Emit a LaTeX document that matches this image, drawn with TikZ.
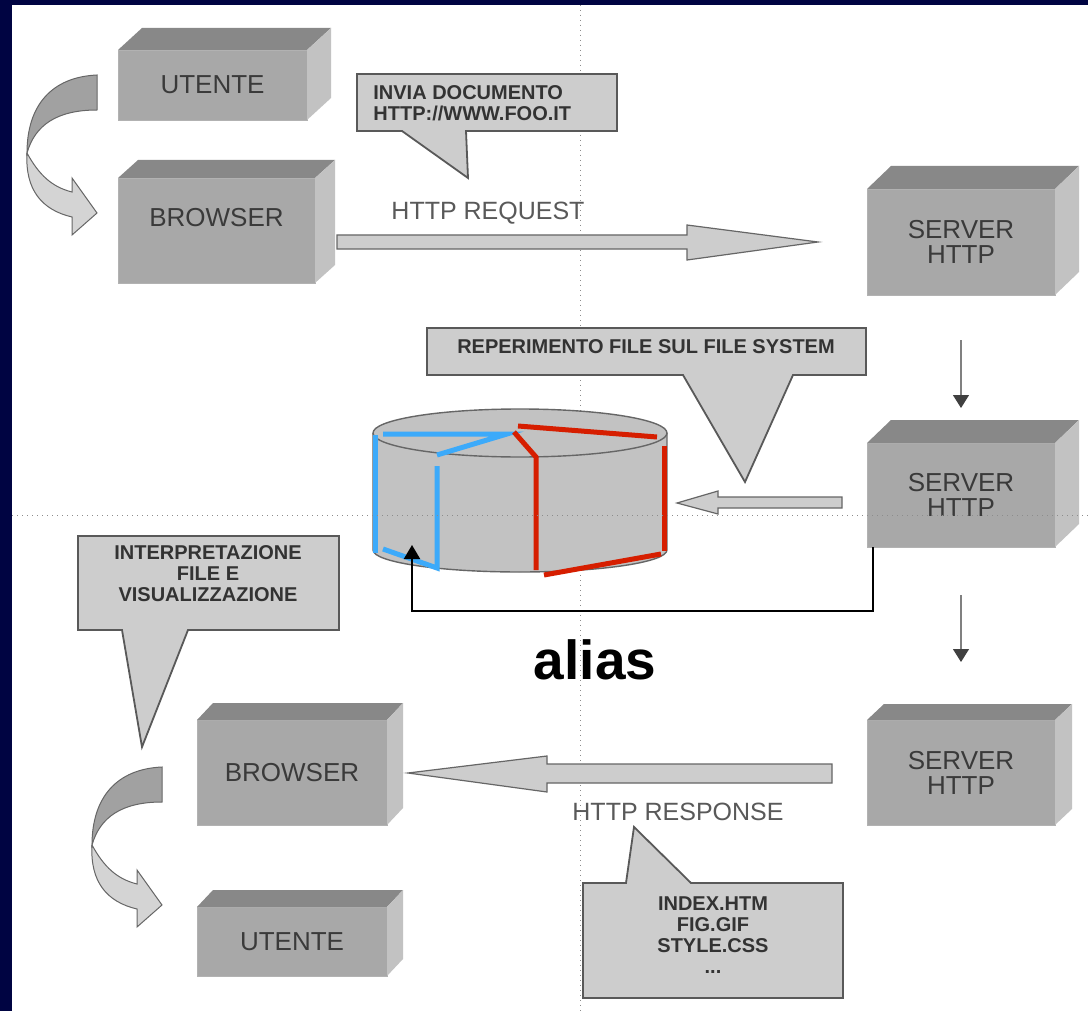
\documentclass[tikz,border=0pt]{standalone}
\usepackage{fontspec}
\setmainfont{Liberation Sans}
\usetikzlibrary{positioning,arrows.meta,calc}
\definecolor{slideNavy}{RGB}{0,4,66}
\definecolor{boxFront}{RGB}{168,168,168}
\definecolor{boxTop}{RGB}{136,136,136}
\definecolor{boxSide}{RGB}{194,194,194}
\definecolor{calloutGray}{RGB}{205,205,205}
\definecolor{textGray}{RGB}{58,58,58}
\definecolor{fsBlue}{RGB}{60,170,250}
\definecolor{fsRed}{RGB}{214,30,0}

% top and side faces of a 3d box (node, depth x, depth y)
\newcommand{\boxfaces}[3]{%
  \fill[boxTop] (#1.north west) -- ++(#2,-#3) -- ($(#1.north east)+(#2,-#3)$) -- (#1.north east) -- cycle;
  \fill[boxSide] (#1.north east) -- ++(#2,-#3) -- ($(#1.south east)+(#2,-#3)$) -- (#1.south east) -- cycle;}

\begin{document}
\begin{tikzpicture}[
  x=0.5pt, y=-0.5pt,
  box/.style={fill=boxFront, draw=black!30, line width=0.3pt, inner sep=0pt, outer sep=0pt, align=center, text=textGray, font=\fontsize{13}{12.5}\selectfont},
  callout/.style={fill=calloutGray, draw=black!65, line width=0.9pt, line join=miter},
  calltext/.style={font=\bfseries\fontsize{10}{10.5}\selectfont, text=black!80, inner sep=0pt},
  flowlabel/.style={font=\fontsize{12.5}{14}\selectfont, text=black!65},
  blockarrow/.style={fill=calloutGray, draw=black!60, line width=0.6pt},
  ribbonback/.style={fill=black!37, draw=black!60, line width=0.5pt},
  ribbonfront/.style={fill=black!17, draw=black!60, line width=0.5pt},
  downarrow/.style={draw=black!50, line width=0.6pt, -{Triangle[width=8pt,length=6.5pt,color=black!75]}},
  aliasline/.style={draw=black, line width=1pt, -{Triangle[width=8pt,length=7pt]}},
  fsline/.style={line width=2.5pt},
  guide/.style={draw=black!45, dotted, line width=0.5pt},
  pics/ribbon/.style={code={
    \path[ribbonback] (0,0) .. controls (-45,2) and (-70,30) .. (-70,78)
      .. controls (-62,50) and (-40,35) .. (0,35) -- cycle;
    \path[ribbonfront] (-70,78) .. controls (-58,100) and (-45,112) .. (-25,117)
      -- (-25,103) -- (0,138) -- (-25,160) -- (-25,142)
      .. controls (-55,135) and (-72,115) .. (-70,78) -- cycle;
  }}
]
\useasboundingbox (0,0) rectangle (1088,1011);
\fill[slideNavy] (0,0) rectangle (1088,1011);
\fill[white] (12,5) rectangle (1088,1011);
\draw[guide] (580,5) -- (580,1011);

% boxes
\node[box, minimum width=94.5pt, minimum height=35pt] (utente1) at (212.5,85) {UTENTE};
\node[box, minimum width=98.5pt, minimum height=52.5pt, text depth=13pt] (browser1) at (216.5,230.5) {BROWSER};
\node[box, minimum width=94pt, minimum height=53pt] (srv1) at (961,242) {SERVER\\HTTP};
\node[box, minimum width=94pt, minimum height=52pt, below=74pt of srv1] (srv2) {SERVER\\HTTP};
\node[box, minimum width=94pt, minimum height=52.5pt, below=86.5pt of srv2] (srv3) {SERVER\\HTTP};
\node[box, minimum width=95pt, minimum height=52.5pt] (browser2) at (292,772.5) {BROWSER};
\node[box, minimum width=95pt, minimum height=34.5pt, below=41pt of browser2] (utente2) {UTENTE};
\boxfaces{utente1}{24}{22}
\boxfaces{browser1}{20}{18}
\boxfaces{srv1}{24}{23}
\boxfaces{srv2}{24}{23}
\boxfaces{srv3}{17}{16}
\boxfaces{browser2}{16}{17}
\boxfaces{utente2}{16}{17}

% ribbon arrows
\pic at (97,75) {ribbon};
\pic at (162,767) {ribbon};

% callouts
\path[callout] (357,74) -- (617,74) -- (617,131) -- (466,131) -- (468,178) -- (402,131) -- (357,131) -- cycle;
\node[calltext, anchor=west, align=left] (invia) at (373,103) {INVIA DOCUMENTO\\HTTP://WWW.FOO.IT};
\path[callout] (427,328) -- (866,328) -- (866,375) -- (793,375) -- (745,482) -- (683,375) -- (427,375) -- cycle;
\node[calltext] (reperimento) at (646,347) {REPERIMENTO FILE SUL FILE SYSTEM};
\path[callout] (78,536) -- (339,536) -- (339,630) -- (188,630) -- (142,747) -- (122,630) -- (78,630) -- cycle;
\node[calltext, align=center] (interpreta) at (208,574) {INTERPRETAZIONE\\FILE E\\VISUALIZZAZIONE};
\path[callout] (583,883) -- (626,883) -- (634,827) -- (691,883) -- (843,883) -- (843,998) -- (583,998) -- cycle;
\node[calltext, align=center] (files) at (713,935) {INDEX.HTM\\FIG.GIF\\STYLE.CSS\\...};

% block arrows
\path[blockarrow] (337,235) -- (687,235) -- (687,225) -- (818,242) -- (687,260) -- (687,249) -- (337,249) -- cycle;
\node[flowlabel] (reqlabel) at (488,213) {HTTP REQUEST};
\path[blockarrow] (832,764) -- (547,764) -- (547,756) -- (408,773) -- (547,792) -- (547,783) -- (832,783) -- cycle;
\node[flowlabel] (resplabel) at (678,812) {HTTP RESPONSE};
\path[blockarrow] (842,497) -- (718,497) -- (718,491) -- (677,503) -- (718,514) -- (718,508) -- (842,508) -- cycle;

% file system
\fill[boxSide] (373,433) rectangle (667,550);
\fill[boxSide] (520,550) ellipse[x radius=147, y radius=22];
\draw[black!60, line width=0.7pt] (373,433) -- (373,550) arc[start angle=180, end angle=0, x radius=147, y radius=22] -- (667,433);
\filldraw[fill=boxSide, draw=black!60, line width=0.7pt] (520,433) ellipse[x radius=147, y radius=24];
\draw[fsline, fsBlue] (375,435) -- (375,553);
\draw[fsline, fsBlue] (383,434) -- (507,434) -- (437,455);
\draw[fsline, fsBlue] (437,466) -- (437,568) -- (383,549);
\draw[fsline, fsRed] (518,426) -- (657,437);
\draw[fsline, fsRed] (514,432) -- (536,457) -- (536,570);
\draw[fsline, fsRed] (664,446) -- (664,551);
\draw[fsline, fsRed] (544,575) -- (661,554);
\coordinate (aliasend) at (412,545);

% connectors
\draw[downarrow, shorten <=22.5pt, shorten >=17.5pt] (srv1.south) -- (srv2.north);
\draw[downarrow, shorten <=24pt, shorten >=29pt] (srv2.south) -- (srv3.north);
\draw[aliasline] ([xshift=3pt]srv2.south west) -- ++(0,64) -| (aliasend);
\node[font=\bfseries\fontsize{27.5}{30}\selectfont] (aliaslabel) at (595,660) {alias};

\draw[guide] (12,515) -- (1088,515);
\end{tikzpicture}
\end{document}
